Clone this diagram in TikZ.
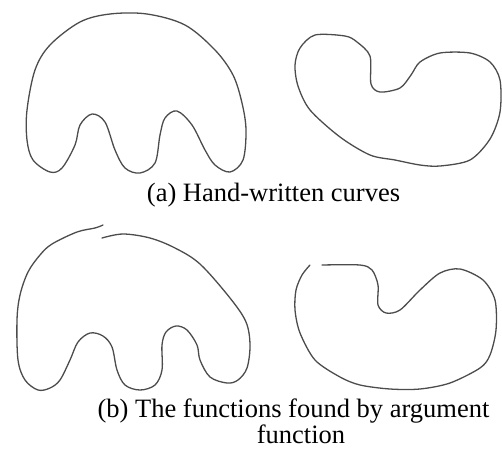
\documentclass[tikz,border=0pt]{standalone}
\usepackage{fontspec}
\setmainfont{Liberation Serif}
\begin{document}
\begin{tikzpicture}[x=1pt,y=-1pt,
  curve/.style={draw=black!70,line width=1.3pt,line join=round,line cap=round},
  captext/.style={inner sep=0pt,anchor=base,font=\fontsize{26.5}{28}\selectfont}]
\useasboundingbox (0,0) rectangle (502,450);
% (a) hand-written elephant
\draw[curve] plot[smooth cycle,tension=0.55] coordinates {
 (147,14) (185,25) (215,50) (233,75) (242,103) (246,130) (243,160) (230,172)
 (215,165) (205,150) (192,125) (177,111) (165,118) (160,135) (155,163) (140,173)
 (125,168) (115,150) (105,122) (92,114) (80,125) (75,145) (62,168) (50,172)
 (33,160) (27,140) (27,110) (35,70) (50,45) (80,22) (110,14)};
% (a) hand-written kidney
\draw[curve] plot[smooth cycle,tension=0.5] coordinates {
 (300,48) (315,35) (345,36) (357,42) (370,56) (371,84) (380,92) (400,88)
 (411,75) (420,62) (440,53) (470,53) (490,62) (500,80) (500,112) (490,139)
 (470,160) (440,166) (420,165) (395,160) (370,155) (340,137) (310,110)
 (298,86) (295,65)};
% (b) found elephant
\draw[curve] plot[smooth,tension=0.55] coordinates {
 (102,238) (123,234) (150,238) (175,248) (200,264) (230,298) (246,322) (250,345)
 (247,368) (238,380) (227,383) (210,377) (200,360) (197,345) (187,330) (176,326)
 (166,332) (162,345) (162,370) (155,385) (140,390) (125,385) (117,370) (112,347)
 (103,336) (90,333) (78,342) (70,360) (60,380) (50,388) (38,390) (25,380)
 (18,360) (17,320) (20,295) (28,272) (40,255) (52,244) (77,232) (95,228) (103,225)};
% (b) found kidney
\draw[curve] plot[smooth,tension=0.5] coordinates {
 (322,265) (360,265) (372,270) (378,285) (378,305) (386,313) (400,310) (420,290)
 (440,273) (460,269) (483,280) (495,300) (496,330) (490,355) (480,368) (450,383)
 (420,389) (390,389) (360,385) (340,377) (315,360) (300,333) (295,310) (296,290)
 (302,275) (310,265)};
\node[captext] (capa) at (273.5,201) {(a) Hand-written curves};
\node[captext] (capb1) at (293.5,417) {(b) The functions found by argument};
\node[captext] (capb2) at (301,443) {function};
\end{tikzpicture}
\end{document}
